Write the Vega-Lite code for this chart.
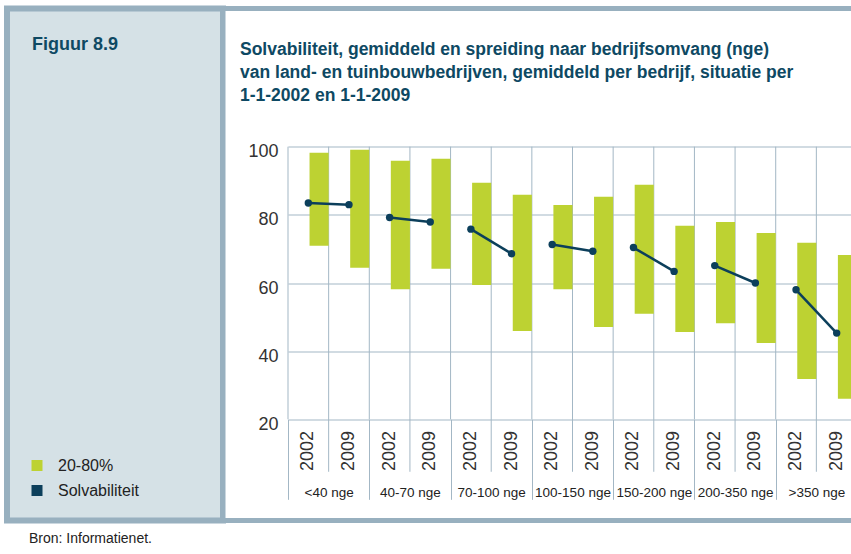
{
  "$schema": "https://vega.github.io/schema/vega-lite/v6.json",
  "autosize": {"type": "none"},
  "padding": {"left": 7, "top": 8.5, "right": 844, "bottom": 545.5},
  "background": "white",
  "bounds": "flush",
  "spacing": 0,
  "title": {"text": "Bron: Informatienet.", "orient": "bottom", "anchor": "start", "frame": "group", "offset": 8, "dx": 22, "fontSize": 14, "fontWeight": "normal", "color": "#222222", "font": "Liberation Sans", "baseline": "top"},
  "config": {
    "font": "Liberation Sans",
    "view": {"stroke": null},
    "axis": {"labelFont": "Liberation Sans"}
  },
  "datasets": {
    "solv": [
      {"group": "<40 nge", "year": "2002", "p20": 70.9, "p80": 98.2, "mean": 83.5},
      {"group": "<40 nge", "year": "2009", "p20": 64.5, "p80": 99.1, "mean": 83.0},
      {"group": "40-70 nge", "year": "2002", "p20": 58.2, "p80": 95.9, "mean": 79.2},
      {"group": "40-70 nge", "year": "2009", "p20": 64.2, "p80": 96.5, "mean": 77.9},
      {"group": "70-100 nge", "year": "2002", "p20": 59.4, "p80": 89.4, "mean": 75.8},
      {"group": "70-100 nge", "year": "2009", "p20": 45.9, "p80": 85.9, "mean": 68.6},
      {"group": "100-150 nge", "year": "2002", "p20": 58.2, "p80": 82.9, "mean": 71.3},
      {"group": "100-150 nge", "year": "2009", "p20": 47.1, "p80": 85.3, "mean": 69.3},
      {"group": "150-200 nge", "year": "2002", "p20": 51.0, "p80": 88.8, "mean": 70.4},
      {"group": "150-200 nge", "year": "2009", "p20": 45.6, "p80": 76.8, "mean": 63.4},
      {"group": "200-350 nge", "year": "2002", "p20": 48.2, "p80": 77.9, "mean": 65.1},
      {"group": "200-350 nge", "year": "2009", "p20": 42.4, "p80": 74.7, "mean": 60.0},
      {"group": ">350 nge", "year": "2002", "p20": 31.8, "p80": 71.8, "mean": 58.0},
      {"group": ">350 nge", "year": "2009", "p20": 26.0, "p80": 68.2, "mean": 45.3}
    ]
  },
  "hconcat": [
    {
      "width": 216,
      "height": 512,
      "view": {"fill": "#d5e1e6", "stroke": "#98b0bf", "strokeWidth": 6},
      "title": {"text": "Figuur 8.9", "anchor": "start", "frame": "group", "orient": "top", "offset": -45.8, "dx": 25, "baseline": "top", "fontSize": 18, "fontWeight": "bold", "color": "#0e4963", "font": "Liberation Sans"},
      "data": {"values": [{"t": ""}]},
      "mark": {"type": "text"},
      "encoding": {"text": {"field": "t"}}
    },
    {
      "width": 634,
      "height": 512,
      "view": {"fill": "white", "stroke": "#98b0bf", "strokeWidth": 5},
      "title": {
        "text": ["Solvabiliteit, gemiddeld en spreiding naar bedrijfsomvang (nge)", "van land- en tuinbouwbedrijven, gemiddeld per bedrijf, situatie per", "1-1-2002 en 1-1-2009"],
        "anchor": "start", "frame": "group", "orient": "top", "offset": -96.5, "dx": 17, "baseline": "top", "lineHeight": 23.3,
        "fontSize": 17.5, "fontWeight": "bold", "color": "#0e4963", "font": "Liberation Sans"
      },
      "data": {"name": "solv"},
      "encoding": {
        "x": {
          "field": "group", "type": "nominal", "sort": null,
          "scale": {"range": [65, 634], "paddingInner": 0, "paddingOuter": 0},
          "axis": {
            "orient": "bottom", "offset": -101.2, "tickBand": "extent", "ticks": true, "tickSize": 80,
            "tickColor": "#a3b7c5", "tickWidth": 1, "domain": false, "grid": false,
            "labelAngle": 0, "labelPadding": -14, "labelBaseline": "top", "labelFontSize": 13.5, "labelColor": "#222222",
            "labelOverlap": false, "labelLimit": 0, "title": null
          }
        }
      },
      "layer": [
        {
          "transform": [{"filter": "datum.year == '2002'"}],
          "mark": {"type": "rule", "color": "#a3b7c5", "strokeWidth": 1},
          "encoding": {
            "y": {"datum": 100, "type": "quantitative"},
            "y2": {"datum": 4.6}
          }
        },
        {
          "transform": [{"filter": "datum.year == '2002'"}],
          "mark": {"type": "rule", "color": "#a3b7c5", "strokeWidth": 1},
          "encoding": {
            "x": {"field": "group", "type": "nominal", "sort": null, "bandPosition": 0},
            "y": {"datum": 100, "type": "quantitative"},
            "y2": {"datum": 20}
          }
        },
        {
          "mark": {"type": "bar", "width": {"band": 0.47}},
          "encoding": {
            "xOffset": {"field": "year", "type": "nominal", "scale": {"paddingInner": 0, "paddingOuter": 0}},
            "y": {
              "field": "p20", "type": "quantitative",
              "scale": {"domain": [20, 100], "range": [410.8, 138.2], "nice": false, "zero": false},
              "axis": {
                "orient": "left", "offset": -65, "values": [20, 40, 60, 80, 100], "grid": true, "gridColor": "#a3b7c5", "gridWidth": 1,
                "domain": false, "ticks": false, "labelPadding": 10, "labelFontSize": 18, "labelColor": "#333333",
                "labelBaseline": "middle", "labelOffset": 5, "title": null
              }
            },
            "y2": {"field": "p80"},
            "color": {
              "datum": "20-80%",
              "scale": {"domain": ["20-80%", "Solvabiliteit"], "range": ["#bdd232", "#0c3f5b"]},
              "legend": {
                "orient": "none", "legendX": 22, "legendY": 449, "title": null, "symbolType": "square", "symbolSize": 121,
                "labelFontSize": 16, "labelFont": "Liberation Sans", "labelColor": "#222222", "labelOffset": 13, "rowPadding": 9,
                "padding": 0, "symbolStrokeWidth": 0, "symbolOpacity": 1
              }
            }
          }
        },
        {
          "mark": {"type": "line", "strokeWidth": 2.5},
          "encoding": {
            "xOffset": {"field": "year", "type": "nominal"},
            "y": {"field": "mean", "type": "quantitative"},
            "detail": {"field": "group"},
            "color": {"datum": "Solvabiliteit"}
          }
        },
        {
          "mark": {"type": "point", "filled": true, "size": 55, "opacity": 1},
          "encoding": {
            "xOffset": {"field": "year", "type": "nominal"},
            "y": {"field": "mean", "type": "quantitative"},
            "color": {"datum": "Solvabiliteit"}
          }
        },
        {
          "mark": {"type": "text", "angle": 270, "align": "center", "baseline": "middle", "fontSize": 18, "color": "#333333"},
          "encoding": {
            "xOffset": {"field": "year", "type": "nominal"},
            "y": {"datum": 10.7, "type": "quantitative"},
            "text": {"field": "year"}
          }
        }
      ]
    }
  ]
}
